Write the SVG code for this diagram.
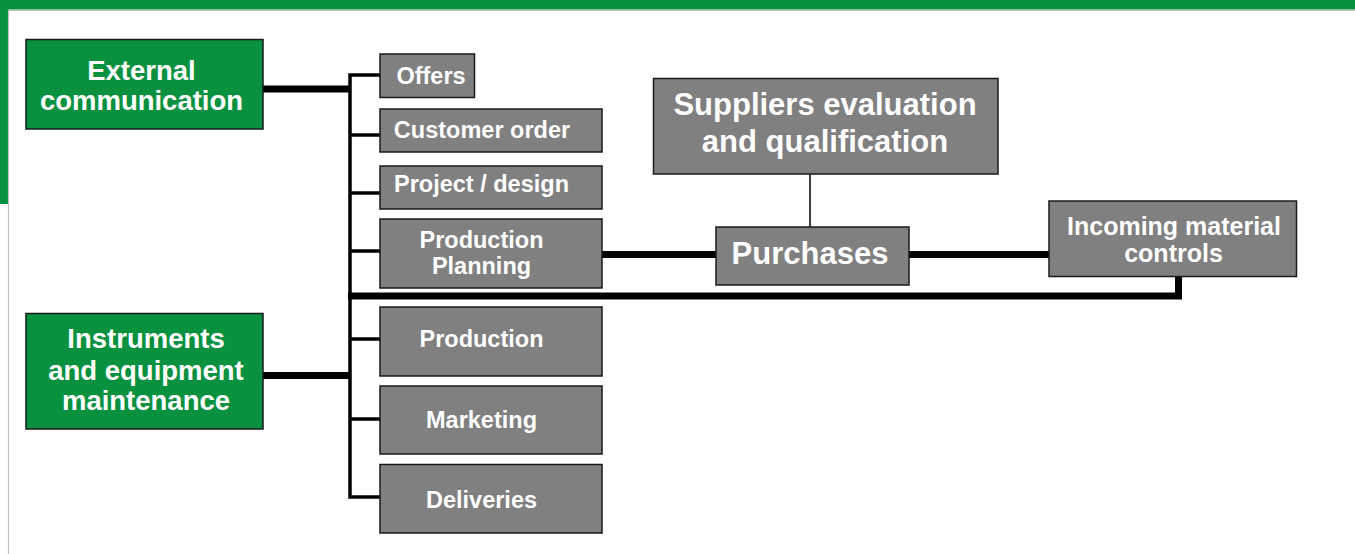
<svg xmlns="http://www.w3.org/2000/svg" width="1355" height="554" viewBox="0 0 1355 554">
<style>
.bg{fill:#0a913f}
.g{fill:#0a913f;stroke:#1a1a1a;stroke-width:1.5}
.k{fill:#808080;stroke:#1a1a1a;stroke-width:1.5}
text{font-family:"Liberation Sans",Arial,sans-serif;font-weight:bold;fill:#fff;text-anchor:middle}
.t27{font-size:27.5px}
.t23{font-size:23.5px}
.t31{font-size:31px}
.t25{font-size:25px}
.thick{stroke:#000;stroke-width:7;fill:none}
.mid{stroke:#000;stroke-width:3.5;fill:none}
.thin{stroke:#000;stroke-width:1.5;fill:none}
</style>
<rect x="0" y="0" width="1355" height="554" fill="#fff"/>
<rect class="bg" x="0" y="0" width="1355" height="9.5"/>
<rect class="bg" x="0" y="0" width="8.5" height="204"/>
<path d="M8.5 554 V10.5 H1355" stroke="#bdbdbd" stroke-width="1.2" fill="none"/>

<g id="connectors">
<line class="thick" x1="263" y1="89" x2="350" y2="89"/>
<line class="thick" x1="263" y1="375.5" x2="350" y2="375.5"/>
<path class="mid" d="M380 75 H350 V497 H380"/>
<line class="mid" x1="350" y1="135" x2="380" y2="135"/>
<line class="mid" x1="350" y1="193" x2="380" y2="193"/>
<line class="mid" x1="350" y1="251" x2="380" y2="251"/>
<line class="mid" x1="350" y1="339" x2="380" y2="339"/>
<line class="mid" x1="350" y1="419" x2="380" y2="419"/>
<path class="thick" d="M348 296 H1178.5 V277"/>
<line class="thick" x1="602" y1="254.5" x2="716" y2="254.5"/>
<line class="thick" x1="909" y1="254.5" x2="1049" y2="254.5"/>
<line class="thin" x1="810" y1="174" x2="810" y2="227"/>
</g>

<g id="external-communication">
<rect class="g" x="26" y="39.5" width="237" height="89.5"/>
<text class="t27" x="141.5" y="80">External</text>
<text class="t27" x="141.5" y="110">communication</text>
</g>
<g id="instruments">
<rect class="g" x="26" y="313.5" width="237" height="115.5"/>
<text class="t27" x="146" y="348">Instruments</text>
<text class="t27" x="146" y="379.5">and equipment</text>
<text class="t27" x="146" y="410">maintenance</text>
</g>
<g id="offers">
<rect class="k" x="380" y="54" width="94.5" height="43.5"/>
<text class="t23" x="431" y="84">Offers</text>
</g>
<g id="customer-order">
<rect class="k" x="380" y="109" width="222" height="43"/>
<text class="t23" x="482" y="138">Customer order</text>
</g>
<g id="project-design">
<rect class="k" x="380" y="166" width="222" height="43"/>
<text class="t23" x="481.5" y="191.5">Project / design</text>
</g>
<g id="production-planning">
<rect class="k" x="380" y="219" width="222" height="69"/>
<text class="t23" x="481.5" y="248">Production</text>
<text class="t23" x="481.5" y="274">Planning</text>
</g>
<g id="production">
<rect class="k" x="380" y="307" width="222" height="69"/>
<text class="t23" x="481.5" y="346.5">Production</text>
</g>
<g id="marketing">
<rect class="k" x="380" y="386" width="222" height="68"/>
<text class="t23" x="481.5" y="427.5">Marketing</text>
</g>
<g id="deliveries">
<rect class="k" x="380" y="464.5" width="222" height="68.5"/>
<text class="t23" x="481.5" y="507.5">Deliveries</text>
</g>
<g id="suppliers">
<rect class="k" x="653.5" y="78.5" width="344.5" height="95.5"/>
<text class="t31" x="825" y="115">Suppliers evaluation</text>
<text class="t31" x="825" y="151.5">and qualification</text>
</g>
<g id="purchases">
<rect class="k" x="716" y="227" width="193" height="58"/>
<text class="t31" x="810" y="264">Purchases</text>
</g>
<g id="incoming">
<rect class="k" x="1049" y="201" width="247.5" height="75.5"/>
<text class="t25" x="1174" y="234.5">Incoming material</text>
<text class="t25" x="1173.5" y="262">controls</text>
</g>
</svg>
